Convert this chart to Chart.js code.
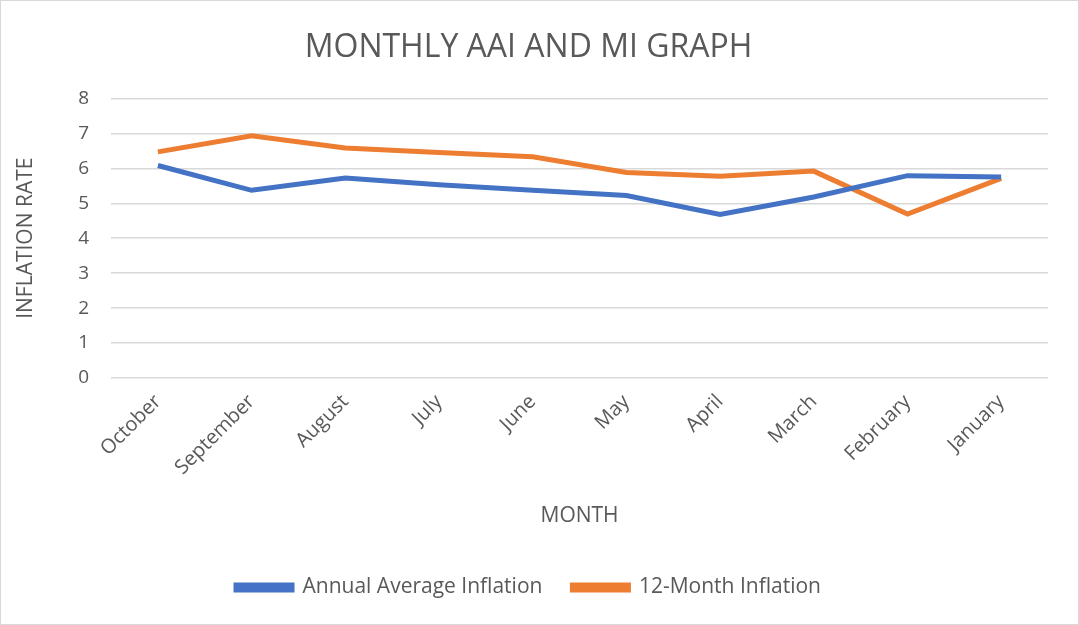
<!DOCTYPE html>
<html>
<head>
<meta charset="utf-8">
<script src="https://cdn.jsdelivr.net/npm/chart.js@4/dist/chart.umd.min.js"></script>
<style>
  html, body { margin: 0; padding: 0; background: #fff; }
  #wrap { position: relative; width: 1077px; height: 623px; border: 1px solid #d9d9d9; }
</style>
</head>
<body>
<div id="wrap"><canvas id="lineChart"></canvas></div>
<script>
var months = ['October', 'September', 'August', 'July', 'June', 'May', 'April', 'March', 'February', 'January'];
var annualAverage = [6.08, 5.37, 5.72, 5.53, 5.37, 5.22, 4.68, 5.18, 5.79, 5.75];
var twelveMonth = [6.47, 6.93, 6.58, 6.45, 6.33, 5.88, 5.77, 5.92, 4.69, 5.71];
var yTicks = [0, 1, 2, 3, 4, 5, 6, 7, 8];

var textColor = '#595959';
var fontName = "'Open Sans', 'Liberation Sans', sans-serif";

document.addEventListener('DOMContentLoaded', function () {
  var ctx = document.getElementById('lineChart').getContext('2d');
  var data = {
    labels: months,
    datasets: [{
      label: 'Annual Average Inflation',
      data: annualAverage,
      borderColor: '#4472C4',
      backgroundColor: '#4472C4',
      borderWidth: 5,
      pointRadius: 0,
      tension: 0
    }, {
      label: '12-Month Inflation',
      data: twelveMonth,
      borderColor: '#ED7D31',
      backgroundColor: '#ED7D31',
      borderWidth: 5,
      pointRadius: 0,
      tension: 0
    }]
  };
  new Chart(ctx, {
    type: 'line',
    data: data,
    options: {
      responsive: true,
      maintainAspectRatio: false,
      animation: false,
      layout: { padding: { left: 8, right: 30, top: 22, bottom: 16 } },
      plugins: {
        title: {
          display: true,
          text: 'MONTHLY AAI AND MI GRAPH',
          color: textColor,
          font: { family: fontName, size: 32, weight: 'normal' },
          padding: { top: 6, bottom: 31 }
        },
        legend: {
          position: 'bottom',
          labels: {
            color: textColor,
            font: { family: fontName, size: 21 },
            boxWidth: 56,
            boxHeight: 5,
            padding: 30
          }
        },
        tooltip: { enabled: false }
      },
      scales: {
        x: {
          offset: true,
          grid: { display: false },
          border: { display: false },
          ticks: {
            color: textColor,
            font: { family: fontName, size: 20 },
            minRotation: 45,
            maxRotation: 45,
            padding: 4
          },
          title: {
            display: true,
            text: 'MONTH',
            color: textColor,
            font: { family: fontName, size: 21 },
            padding: { top: 20, bottom: 18 }
          }
        },
        y: {
          min: 0,
          max: 8,
          afterBuildTicks: function (axis) {
            axis.ticks = yTicks.map(function (v) { return { value: v }; });
          },
          grid: { color: '#d9d9d9', lineWidth: 1.5, drawTicks: false },
          border: { display: false },
          ticks: {
            color: textColor,
            font: { family: fontName, size: 19 },
            padding: 22
          },
          title: {
            display: true,
            text: 'INFLATION RATE',
            color: textColor,
            font: { family: fontName, size: 21 },
            padding: { bottom: 18 }
          }
        }
      }
    }
  });
});
</script>
</body>
</html>
